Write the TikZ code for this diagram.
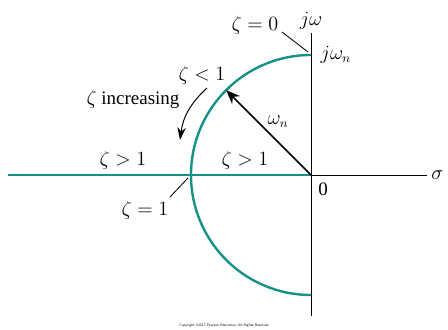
\documentclass[tikz,border=0pt]{standalone}
\usepackage{xcolor}
\usepackage{amsmath}
\usepackage{fontspec}
\setmainfont{Liberation Serif}
\usepackage{tikz}
\usetikzlibrary{arrows.meta}
\definecolor{locus}{RGB}{22,145,135}

\begin{document}
\begin{tikzpicture}[
  axis/.style={line width=0.6pt},
  root/.style={locus, line width=1.7pt},
  lead/.style={line width=0.6pt},
  arrow/.style={-{Stealth[length=10pt,width=8pt]}, line width=1.1pt},
  bent/.style={-{Stealth[length=9pt,width=6pt]}, line width=0.7pt},
  lbl/.style={font=\fontsize{13.5}{16}\selectfont, inner sep=1pt}
]
\useasboundingbox (-7.775,-3.85) rectangle (3.425,4.375);
% axes
\coordinate (O) at (0,0);
\coordinate (top) at (0,3.55);
\coordinate (bot) at (0,-3.525);
\coordinate (right) at (2.9,0);
\coordinate (left) at (-7.575,0);
\coordinate (wn) at (0,3);
\coordinate (p135) at (135:3);
\draw[axis] (bot) -- (top);
\draw[axis] (O) -- (right);
\node[lbl, above=1pt] (jw) at (top) {$j\omega$};
\node[lbl, right=2pt] (sigma) at (right) {$\sigma$};
\node[lbl] (zero) at (0.3,-0.35) {0};
\node[lbl, anchor=west] (jwnl) at (0.2,3.0) {$j\omega_n$};
% locus
\draw[root] (left) -- (O);
\draw[root] (wn) arc (90:270:3);
\draw[arrow] (O) -- (p135);
\node[lbl] (wnl) at (-0.825,1.325) {$\omega_n$};
% labels
\node[lbl] (z0) at (-1.4,3.75) {$\zeta = 0$};
\coordinate (z0a) at (-0.725,3.575);
\coordinate (z0b) at (-0.075,3.075);
\draw[lead] (z0a) -- (z0b);
\node[lbl] (zlt) at (-2.725,2.5) {$\zeta < 1$};
\coordinate (inc1) at (-2.6,2.175);
\coordinate (inc2) at (-3.275,0.875);
\draw[bent] (inc1) to[bend right=20] (inc2);
\node[lbl] (inc) at (-4.45,1.875) {$\zeta$ increasing};
\node[lbl] (zgt1) at (-4.7,0.375) {$\zeta > 1$};
\node[lbl] (zgt2) at (-1.65,0.375) {$\zeta > 1$};
\node[lbl] (z1) at (-4.15,-0.875) {$\zeta = 1$};
\coordinate (z1a) at (-3.525,-0.55);
\coordinate (z1b) at (-3.075,-0.075);
\draw[lead] (z1a) -- (z1b);
\node[font=\fontsize{2.5}{3}\selectfont\sffamily] (copy) at (-2.175,-3.775) {Copyright \copyright 2017 Pearson Education, All Rights Reserved};
\end{tikzpicture}
\end{document}
